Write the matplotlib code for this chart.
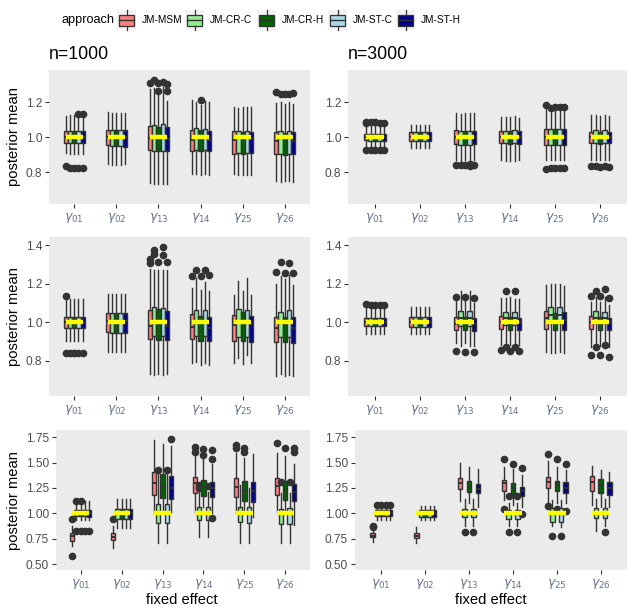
import matplotlib
matplotlib.use("Agg")
import matplotlib.pyplot as plt
from matplotlib.patches import Rectangle

plt.rcParams['font.family'] = ['Liberation Sans', 'DejaVu Sans']
plt.rcParams['mathtext.fontset'] = 'dejavusans'

approaches = ["JM-MSM", "JM-CR-C", "JM-CR-H", "JM-ST-C", "JM-ST-H"]
colors = ["#FF7F7F", "#90EE90", "#006400", "#ADD8E6", "#00008B"]
effects = [r"$\gamma_{01}$", r"$\gamma_{02}$", r"$\gamma_{13}$",
           r"$\gamma_{14}$", r"$\gamma_{25}$", r"$\gamma_{26}$"]
truth = [1.0, 1.0, 1.0, 1.0, 1.0, 1.0]
sizes = ["n=1000", "n=3000"]

# box statistics: rows = fixed effect, columns = approach

# ---- row 1, n=1000
r1_n1000_q1 = [[0.966, 0.966, 0.966, 0.966, 0.966],
               [0.954, 0.952, 0.952, 0.952, 0.948],
               [0.928, 0.924, 0.920, 0.924, 0.920],
               [0.924, 0.928, 0.922, 0.928, 0.922],
               [0.903, 0.909, 0.905, 0.909, 0.909],
               [0.903, 0.903, 0.897, 0.903, 0.903]]
r1_n1000_med = [[1.000, 1.000, 1.000, 1.000, 1.000],
                [1.000, 1.000, 1.000, 1.000, 1.000],
                [0.996, 0.996, 0.996, 0.996, 0.989],
                [0.985, 1.000, 0.990, 1.000, 0.985],
                [0.985, 1.000, 0.990, 1.000, 0.990],
                [0.980, 1.000, 0.990, 1.000, 0.980]]
r1_n1000_q3 = [[1.036, 1.036, 1.036, 1.036, 1.036],
               [1.040, 1.040, 1.040, 1.040, 1.040],
               [1.065, 1.069, 1.057, 1.074, 1.057],
               [1.042, 1.053, 1.042, 1.048, 1.038],
               [1.036, 1.034, 1.029, 1.034, 1.030],
               [1.029, 1.034, 1.023, 1.036, 1.029]]
r1_n1000_lo = [[0.910, 0.905, 0.905, 0.905, 0.905],
               [0.850, 0.845, 0.845, 0.845, 0.850],
               [0.740, 0.737, 0.735, 0.733, 0.737],
               [0.794, 0.789, 0.786, 0.789, 0.786],
               [0.790, 0.787, 0.785, 0.787, 0.787],
               [0.752, 0.745, 0.750, 0.752, 0.747]]
r1_n1000_hi = [[1.125, 1.130, 1.128, 1.120, 1.120],
               [1.145, 1.140, 1.140, 1.140, 1.140],
               [1.276, 1.284, 1.276, 1.286, 1.210],
               [1.213, 1.204, 1.185, 1.208, 1.204],
               [1.175, 1.170, 1.175, 1.175, 1.172],
               [1.198, 1.200, 1.190, 1.200, 1.190]]
r1_n1000_fl = [[[0.835], [0.825], [0.825], [0.828, 1.133], [0.828, 1.133]],
               [[], [], [], [], []],
               [[1.309], [1.328], [1.309, 1.267], [1.318], [1.305, 1.267]],
               [[], [], [1.213], [], []],
               [[], [], [], [], []],
               [[1.261], [1.250], [1.248], [1.250], [1.252]]]

# ---- row 1, n=3000
r1_n3000_q1 = [[0.985, 0.982, 0.982, 0.982, 0.982],
               [0.979, 0.979, 0.979, 0.979, 0.979],
               [0.960, 0.958, 0.958, 0.958, 0.960],
               [0.966, 0.966, 0.962, 0.966, 0.962],
               [0.956, 0.958, 0.956, 0.958, 0.958],
               [0.966, 0.966, 0.962, 0.966, 0.966]]
r1_n3000_med = [[1.000, 1.000, 1.000, 1.000, 1.000],
                [1.000, 1.000, 1.000, 1.000, 1.000],
                [1.000, 1.000, 1.000, 1.000, 1.000],
                [1.000, 1.000, 1.000, 1.000, 1.000],
                [1.000, 1.000, 1.000, 1.000, 1.000],
                [1.000, 1.000, 1.000, 1.000, 1.000]]
r1_n3000_q3 = [[1.020, 1.017, 1.017, 1.017, 1.017],
               [1.032, 1.032, 1.032, 1.032, 1.032],
               [1.042, 1.038, 1.036, 1.034, 1.036],
               [1.034, 1.034, 1.036, 1.040, 1.034],
               [1.046, 1.046, 1.046, 1.046, 1.046],
               [1.030, 1.040, 1.030, 1.040, 1.030]]
r1_n3000_lo = [[0.950, 0.945, 0.945, 0.945, 0.945],
               [0.937, 0.940, 0.940, 0.940, 0.940],
               [0.870, 0.868, 0.870, 0.870, 0.870],
               [0.870, 0.868, 0.868, 0.868, 0.870],
               [0.870, 0.870, 0.870, 0.870, 0.870],
               [0.870, 0.870, 0.870, 0.870, 0.870]]
r1_n3000_hi = [[1.070, 1.070, 1.070, 1.070, 1.070],
               [1.070, 1.070, 1.070, 1.070, 1.070],
               [1.137, 1.135, 1.137, 1.137, 1.137],
               [1.118, 1.116, 1.114, 1.120, 1.110],
               [1.166, 1.160, 1.165, 1.165, 1.165],
               [1.128, 1.130, 1.125, 1.130, 1.125]]
r1_n3000_fl = [[[1.090, 1.080, 0.930], [1.088, 0.928], [1.086, 0.928], [1.084, 0.928], [1.082, 0.928]],
               [[], [], [], [], []],
               [[0.842], [0.845], [0.842], [0.848, 0.838], [0.842]],
               [[], [], [], [], []],
               [[1.185, 0.820], [1.170, 0.827], [1.175, 0.823], [1.175, 0.827], [1.175, 0.823]],
               [[0.836], [0.836], [0.834], [0.836], [0.834]]]

# ---- row 2, n=1000
r2_n1000_q1 = [[0.969, 0.969, 0.969, 0.969, 0.969],
               [0.948, 0.943, 0.943, 0.943, 0.943],
               [0.913, 0.929, 0.908, 0.929, 0.908],
               [0.913, 0.929, 0.905, 0.929, 0.903],
               [0.903, 0.922, 0.903, 0.922, 0.896],
               [0.896, 0.922, 0.896, 0.922, 0.891]]
r2_n1000_med = [[1.000, 1.000, 1.000, 1.000, 1.000],
                [1.009, 1.009, 1.009, 1.009, 1.009],
                [0.983, 1.009, 1.009, 1.009, 0.983],
                [0.977, 1.009, 0.995, 1.009, 0.972],
                [0.986, 1.009, 1.003, 1.009, 0.991],
                [0.972, 1.000, 0.990, 1.000, 0.972]]
r2_n1000_q3 = [[1.029, 1.029, 1.029, 1.029, 1.029],
               [1.047, 1.047, 1.047, 1.047, 1.047],
               [1.062, 1.081, 1.068, 1.076, 1.059],
               [1.042, 1.062, 1.035, 1.062, 1.029],
               [1.036, 1.068, 1.052, 1.062, 1.035],
               [1.029, 1.054, 1.029, 1.062, 1.029]]
r2_n1000_lo = [[0.905, 0.905, 0.905, 0.905, 0.905],
               [0.844, 0.844, 0.844, 0.844, 0.844],
               [0.730, 0.726, 0.730, 0.726, 0.730],
               [0.787, 0.796, 0.780, 0.787, 0.780],
               [0.790, 0.816, 0.784, 0.830, 0.790],
               [0.721, 0.730, 0.723, 0.726, 0.723]]
r2_n1000_hi = [[1.125, 1.120, 1.120, 1.120, 1.120],
               [1.145, 1.145, 1.145, 1.145, 1.145],
               [1.275, 1.270, 1.270, 1.270, 1.270],
               [1.177, 1.229, 1.168, 1.211, 1.163],
               [1.142, 1.215, 1.165, 1.229, 1.142],
               [1.199, 1.241, 1.225, 1.246, 1.194]]
r2_n1000_fl = [[[1.139, 0.838], [0.840], [0.840], [0.840], [0.840]],
               [[], [], [], [], []],
               [[1.327, 1.306], [1.376, 1.355], [1.312], [1.393, 1.350], [1.315]],
               [[1.241], [1.272], [1.241], [1.272], [1.246]],
               [[], [], [], [], []],
               [[1.260], [1.312], [1.255], [1.306], [1.255]]]

# ---- row 2, n=3000
r2_n3000_q1 = [[0.981, 0.981, 0.981, 0.981, 0.981],
               [0.977, 0.977, 0.977, 0.977, 0.977],
               [0.960, 0.983, 0.960, 0.983, 0.955],
               [0.965, 0.986, 0.960, 0.986, 0.960],
               [0.965, 0.995, 0.960, 0.995, 0.960],
               [0.965, 0.995, 0.960, 0.995, 0.960]]
r2_n3000_med = [[1.000, 1.000, 1.000, 1.000, 1.000],
                [1.000, 1.000, 1.000, 1.000, 1.000],
                [0.990, 1.020, 1.000, 1.020, 0.990],
                [1.000, 1.020, 1.000, 1.020, 1.000],
                [1.020, 1.040, 1.030, 1.040, 1.010],
                [1.000, 1.020, 1.000, 1.020, 1.000]]
r2_n3000_q3 = [[1.021, 1.021, 1.021, 1.021, 1.021],
               [1.026, 1.026, 1.026, 1.026, 1.026],
               [1.026, 1.059, 1.026, 1.059, 1.021],
               [1.033, 1.055, 1.026, 1.055, 1.021],
               [1.059, 1.078, 1.047, 1.078, 1.052],
               [1.033, 1.059, 1.026, 1.052, 1.021]]
r2_n3000_lo = [[0.938, 0.938, 0.938, 0.938, 0.938],
               [0.938, 0.938, 0.938, 0.938, 0.938],
               [0.890, 0.875, 0.890, 0.875, 0.875],
               [0.880, 0.890, 0.880, 0.890, 0.880],
               [0.848, 0.842, 0.842, 0.848, 0.842],
               [0.874, 0.882, 0.878, 0.890, 0.870]]
r2_n3000_hi = [[1.073, 1.073, 1.073, 1.073, 1.073],
               [1.078, 1.078, 1.078, 1.078, 1.078],
               [1.113, 1.160, 1.120, 1.160, 1.099],
               [1.125, 1.125, 1.130, 1.120, 1.120],
               [1.194, 1.200, 1.197, 1.200, 1.189],
               [1.107, 1.133, 1.107, 1.133, 1.090]]
r2_n3000_fl = [[[1.095], [1.090], [1.090], [1.090], [1.090]],
               [[], [], [], [], []],
               [[1.133, 0.851], [], [1.133, 0.848], [], [1.125, 0.844]],
               [[0.856], [1.160, 0.870], [0.853], [1.160, 0.870], [0.853]],
               [[], [], [], [], []],
               [[1.137, 0.830], [1.165, 0.870], [1.137, 0.830], [1.171, 0.882], [1.125, 0.822]]]

# ---- row 3, n=1000
r3_n1000_q1 = [[0.731, 0.977, 0.977, 0.974, 0.967],
               [0.738, 0.941, 0.941, 0.941, 0.941],
               [1.177, 0.902, 1.148, 0.902, 1.138],
               [1.197, 0.934, 1.174, 0.934, 1.164],
               [1.157, 0.910, 1.125, 0.905, 1.112],
               [1.177, 0.890, 1.131, 0.895, 1.118]]
r3_n1000_med = [[0.777, 1.000, 1.000, 1.000, 1.000],
                [0.770, 1.000, 1.000, 1.000, 1.000],
                [1.295, 1.000, 1.262, 1.000, 1.246],
                [1.295, 1.000, 1.262, 1.000, 1.246],
                [1.262, 1.000, 1.223, 1.000, 1.223],
                [1.272, 1.000, 1.230, 1.000, 1.213]]
r3_n1000_q3 = [[0.810, 1.033, 1.033, 1.033, 1.033],
               [0.810, 1.039, 1.039, 1.039, 1.039],
               [1.410, 1.092, 1.387, 1.092, 1.367],
               [1.354, 1.059, 1.328, 1.059, 1.305],
               [1.344, 1.059, 1.318, 1.066, 1.305],
               [1.344, 1.043, 1.318, 1.049, 1.285]]
r3_n1000_lo = [[0.678, 0.934, 0.934, 0.934, 0.934],
               [0.656, 0.852, 0.852, 0.852, 0.852],
               [1.000, 0.705, 1.030, 0.705, 1.016],
               [1.016, 0.770, 1.066, 0.770, 1.000],
               [1.000, 0.705, 1.030, 0.705, 0.967],
               [1.016, 0.711, 1.000, 0.711, 0.885]]
r3_n1000_hi = [[0.875, 1.080, 1.080, 1.125, 1.125],
               [0.875, 1.138, 1.138, 1.138, 1.138],
               [1.720, 1.390, 1.680, 1.390, 1.660],
               [1.574, 1.213, 1.530, 1.213, 1.490],
               [1.597, 1.280, 1.540, 1.250, 1.584],
               [1.590, 1.200, 1.564, 1.200, 1.490]]
r3_n1000_fl = [[[0.941, 0.580], [1.125, 0.826], [1.125, 0.826], [0.826], [0.826]],
               [[0.941], [], [], [], []],
               [[], [1.427], [], [1.427], [1.728]],
               [[1.650, 1.607], [1.280, 1.246], [1.630, 1.574], [1.270], [1.623, 1.535, 0.950]],
               [[1.672, 1.640], [], [1.640, 1.607], [], []],
               [[1.689], [1.305], [1.640], [1.305], [1.640, 1.607]]]

# ---- row 3, n=3000
r3_n3000_q1 = [[0.764, 0.974, 0.974, 0.974, 0.974],
               [0.754, 0.967, 0.967, 0.967, 0.967],
               [1.236, 0.961, 1.213, 0.961, 1.197],
               [1.223, 0.948, 1.190, 0.948, 1.170],
               [1.246, 0.915, 1.223, 0.915, 1.197],
               [1.223, 0.951, 1.197, 0.951, 1.177]]
r3_n3000_med = [[0.780, 1.000, 1.000, 1.000, 1.000],
                [0.777, 1.000, 1.000, 1.000, 1.000],
                [1.295, 1.000, 1.262, 1.000, 1.243],
                [1.295, 1.000, 1.246, 1.000, 1.220],
                [1.312, 1.000, 1.279, 1.000, 1.246],
                [1.308, 1.000, 1.279, 1.000, 1.246]]
r3_n3000_q3 = [[0.803, 1.033, 1.033, 1.033, 1.033],
               [0.803, 1.033, 1.033, 1.033, 1.033],
               [1.344, 1.039, 1.318, 1.039, 1.289],
               [1.328, 1.033, 1.295, 1.033, 1.262],
               [1.354, 1.049, 1.320, 1.049, 1.310],
               [1.367, 1.049, 1.334, 1.049, 1.310]]
r3_n3000_lo = [[0.721, 0.934, 0.934, 0.934, 0.934],
               [0.711, 0.934, 0.934, 0.934, 0.934],
               [1.121, 0.875, 1.100, 0.875, 1.059],
               [1.130, 0.875, 1.082, 0.875, 1.059],
               [1.082, 0.875, 1.100, 0.870, 1.100],
               [1.082, 0.830, 1.059, 0.875, 1.059]]
r3_n3000_hi = [[0.836, 1.070, 1.070, 1.070, 1.070],
               [0.869, 1.072, 1.072, 1.072, 1.072],
               [1.500, 1.141, 1.453, 1.141, 1.433],
               [1.460, 1.100, 1.433, 1.100, 1.377],
               [1.510, 1.130, 1.460, 1.130, 1.426],
               [1.466, 1.140, 1.426, 1.140, 1.410]]
r3_n3000_fl = [[[0.875, 0.862], [1.079], [1.079], [1.079], [1.079]],
               [[], [], [], [], []],
               [[], [0.816], [], [0.816], []],
               [[1.530, 1.043], [1.170, 0.816], [1.490], [1.170, 0.816], [1.443, 0.990]],
               [[1.584, 1.072], [0.777], [1.530, 1.040], [0.777], [1.485, 1.026]],
               [[], [], [], [0.816], []]]

row1_ticks = [0.8, 1.0, 1.2]
row2_ticks = [0.8, 1.0, 1.2, 1.4]
row3_ticks = [0.50, 0.75, 1.00, 1.25, 1.50, 1.75]

W, H = 635, 616
fig = plt.figure(figsize=(W / 100, H / 100), dpi=100)


def px_axes(x0, y0, x1, y1):
    return fig.add_axes([x0 / W, 1 - y1 / H, (x1 - x0) / W, (y1 - y0) / H])


def draw_panel(ax, q1, med, q3, lo, hi, fl, ylim, ticks, fmt):
    ax.set_facecolor("#EBEBEB")
    cats = list(range(1, len(effects) + 1))
    for j, col in enumerate(colors):
        stats = []
        for i in range(len(effects)):
            stats.append(dict(q1=q1[i][j], med=med[i][j], q3=q3[i][j],
                              whislo=lo[i][j], whishi=hi[i][j], fliers=fl[i][j]))
        pos = [c + (j - 2) * 0.1 for c in cats]
        ax.bxp(stats, positions=pos, widths=0.1, patch_artist=True,
               showcaps=False, manage_ticks=False,
               boxprops=dict(facecolor=col, edgecolor="#333333", linewidth=1.0),
               whiskerprops=dict(color="#333333", linewidth=1.0),
               medianprops=dict(color="#333333", linewidth=1.4),
               flierprops=dict(marker="o", markerfacecolor="#333333",
                               markeredgecolor="#333333", markersize=4.5))
    ax.hlines(truth, [c - 0.2 for c in cats], [c + 0.2 for c in cats],
              color="#FFFF00", linewidth=3.2, zorder=5)
    ax.set_xlim(0.4, 6.6)
    ax.set_ylim(*ylim)
    ax.set_xticks(cats)
    ax.set_xticklabels(effects, fontsize=9, color="#66708A")
    ax.set_yticks(ticks)
    ax.set_yticklabels([fmt.format(t) for t in ticks], fontsize=8.6, color="#4D4D4D")
    ax.tick_params(length=3, width=0.8, color="#333333", pad=2)
    for s in ax.spines.values():
        s.set_visible(False)


panels = [
    ((49, 70, 310, 204), (r1_n1000_q1, r1_n1000_med, r1_n1000_q3, r1_n1000_lo, r1_n1000_hi, r1_n1000_fl), (0.62, 1.385), row1_ticks, "{:.1f}"),
    ((348, 70, 627, 204), (r1_n3000_q1, r1_n3000_med, r1_n3000_q3, r1_n3000_lo, r1_n3000_hi, r1_n3000_fl), (0.62, 1.385), row1_ticks, "{:.1f}"),
    ((49, 237, 310, 396), (r2_n1000_q1, r2_n1000_med, r2_n1000_q3, r2_n1000_lo, r2_n1000_hi, r2_n1000_fl), (0.617, 1.443), row2_ticks, "{:.1f}"),
    ((348, 237, 627, 396), (r2_n3000_q1, r2_n3000_med, r2_n3000_q3, r2_n3000_lo, r2_n3000_hi, r2_n3000_fl), (0.617, 1.443), row2_ticks, "{:.1f}"),
    ((56, 430, 310, 570), (r3_n1000_q1, r3_n1000_med, r3_n1000_q3, r3_n1000_lo, r3_n1000_hi, r3_n1000_fl), (0.442, 1.82), row3_ticks, "{:.2f}"),
    ((355, 430, 627, 570), (r3_n3000_q1, r3_n3000_med, r3_n3000_q3, r3_n3000_lo, r3_n3000_hi, r3_n3000_fl), (0.442, 1.82), row3_ticks, "{:.2f}"),
]

for k, (rect, data, ylim, ticks, fmt) in enumerate(panels):
    ax = px_axes(*rect)
    draw_panel(ax, *data, ylim, ticks, fmt)

# overlay for titles, axis titles and legend (pixel coordinates)
ov = fig.add_axes([0, 0, 1, 1], zorder=10)
ov.set_xlim(0, W)
ov.set_ylim(H, 0)
ov.axis("off")

ov.text(49, 59, sizes[0], fontsize=12.8, ha="left", va="baseline")
ov.text(348, 59, sizes[1], fontsize=12.8, ha="left", va="baseline")
for yc in [137, 316, 500]:
    ov.text(14, yc, "posterior mean", rotation=90, fontsize=10.6, ha="center", va="center")
ov.text(182, 600, "fixed effect", fontsize=10.6, ha="center", va="center")
ov.text(491, 600, "fixed effect", fontsize=10.6, ha="center", va="center")

# legend
ly = 20
ov.text(61, ly, "approach", fontsize=9.2, ha="left", va="center")
key_x = [117, 185, 257, 328, 396]
for kx, lab, col in zip(key_x, approaches, colors):
    ov.add_patch(Rectangle((kx, ly - 10), 19, 20, facecolor="#F2F2F2", edgecolor="none"))
    ov.add_patch(Rectangle((kx + 2, ly - 5.5), 15, 11, facecolor=col, edgecolor="#333333", linewidth=0.9))
    ov.plot([kx + 9.5, kx + 9.5], [ly - 10, ly - 5.5], color="#333333", linewidth=0.9)
    ov.plot([kx + 9.5, kx + 9.5], [ly + 5.5, ly + 10], color="#333333", linewidth=0.9)
    ov.plot([kx + 2, kx + 17], [ly, ly], color="#333333", linewidth=1.0)
    ov.text(kx + 25, ly, lab, fontsize=7.3, ha="left", va="center")

fig.savefig("out.png", dpi=100)
